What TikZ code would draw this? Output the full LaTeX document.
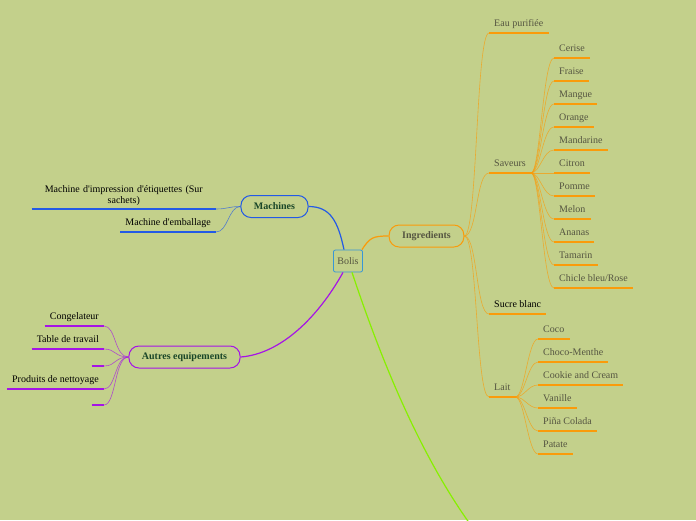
\documentclass[tikz,border=0pt]{standalone}
\usepackage{fontspec}
\setmainfont{Liberation Serif}
\usetikzlibrary{calc}

\definecolor{fond}{RGB}{195,208,139}
\definecolor{bleumm}{RGB}{35,90,230}
\definecolor{orangemm}{RGB}{250,155,10}
\definecolor{violetmm}{RGB}{165,20,230}
\definecolor{vertmm}{RGB}{135,240,0}
\definecolor{cadre}{RGB}{55,150,215}
\definecolor{texteg}{RGB}{85,85,65}
\definecolor{textev}{RGB}{25,70,40}

\tikzset{
  theme/.style={draw=#1, line width=1pt, rounded corners=10pt, minimum height=22pt,
    inner xsep=13pt, font=\bfseries},
  feuille/.style={inner xsep=5pt, inner ysep=3pt, text height=7pt, text depth=3pt,
    append after command={(\tikzlastnode.south west) edge[draw=#1, line width=1.4pt] (\tikzlastnode.south east)}},
  lien/.style={draw=#1, line width=0.6pt, opacity=0.7},
  branche/.style={draw=#1, line width=1.2pt}
}

\begin{document}
\begin{tikzpicture}[x=1pt, y=-1pt]
    % fond
    \fill[fond] (0,0) rectangle (696,520);
    \useasboundingbox (0,0) rectangle (696,520);

    % centre et themes
    \node[draw=cadre, line width=0.8pt, rounded corners=2pt, minimum height=22pt,
      inner xsep=4pt, text=texteg] (bolis) at (348,261) {Bolis};
    \node[theme=bleumm, text=textev] (machines) at (274.5,206.5) {Machines};
    \node[theme=orangemm, text=texteg] (ingredients) at (426.5,236) {Ingredients};
    \node[theme=violetmm, text=textev] (autres) at (184.5,357) {Autres equipements};
    \coordinate (finvert) at (470,524);

    % branches principales
    \draw[branche=bleumm] ($(bolis.north)+(-4,0)$) .. controls +(-6,-28) and +(22,0) .. (machines.east);
    \draw[branche=orangemm] ($(bolis.north east)+(-1,0)$) .. controls +(8,-12) and +(-16,0) .. (ingredients.west);
    \draw[branche=violetmm] ($(bolis.south)+(-5,0)$) .. controls +(-25,45) and +(40,-3) .. (autres.east);
    \draw[branche=vertmm] ($(bolis.south)+(4,0)$) .. controls +(30,90) and +(-50,-70) .. (finvert);

    % Machines
    \node[feuille=bleumm, anchor=south east, text width=174pt, align=center, text height=, text depth=,
      font=\fontsize{10}{11}\selectfont] (impression) at (216,209)
      {Machine d\textquotesingle impression d\textquotesingle étiquettes (Sur\\ sachets)};
    \node[feuille=bleumm, anchor=south east] (emballage) at (216,232) {Machine d\textquotesingle emballage};
    \draw[lien=bleumm] (machines.west) .. controls +(-12,0) and +(12,0) .. (impression.south east);
    \draw[lien=bleumm] (machines.west) .. controls +(-12,0) and +(12,0) .. (emballage.south east);

    % Autres equipements
    \node[feuille=violetmm, anchor=south east] (congelateur) at (104,326) {Congelateur};
    \node[feuille=violetmm, anchor=south east] (table) at (104,349) {Table de travail};
    \node[feuille=violetmm, anchor=south east, minimum width=12pt, inner xsep=0pt] (vide1) at (104,366) {};
    \node[feuille=violetmm, anchor=south east] (produits) at (104,389) {Produits de nettoyage};
    \node[feuille=violetmm, anchor=south east, minimum width=12pt, inner xsep=0pt] (vide2) at (104,405) {};
    \draw[lien=violetmm] (autres.west) .. controls +(-14,0) and +(12,0) .. (congelateur.south east);
    \draw[lien=violetmm] (autres.west) .. controls +(-14,0) and +(12,0) .. (table.south east);
    \draw[lien=violetmm] (autres.west) .. controls +(-14,0) and +(12,0) .. (vide1.south east);
    \draw[lien=violetmm] (autres.west) .. controls +(-14,0) and +(12,0) .. (produits.south east);
    \draw[lien=violetmm] (autres.west) .. controls +(-14,0) and +(12,0) .. (vide2.south east);

    % Ingredients
    \node[feuille=orangemm, anchor=south west, text=texteg] (eau) at (489,33) {Eau purifiée};
    \node[feuille=orangemm, anchor=south west, text=texteg] (saveurs) at (489,173) {Saveurs};
    \node[feuille=orangemm, anchor=south west] (sucre) at (489,314) {Sucre blanc};
    \node[feuille=orangemm, anchor=south west, text=texteg] (lait) at (489,397) {Lait};
    \draw[lien=orangemm] (ingredients.east) .. controls +(13,0) and +(-13,0) .. (eau.south west);
    \draw[lien=orangemm] (ingredients.east) .. controls +(13,0) and +(-13,0) .. (saveurs.south west);
    \draw[lien=orangemm] (ingredients.east) .. controls +(13,0) and +(-13,0) .. (sucre.south west);
    \draw[lien=orangemm] (ingredients.east) .. controls +(13,0) and +(-13,0) .. (lait.south west);

    % Saveurs
    \node[feuille=orangemm, anchor=south west, text=texteg] (cerise) at (554,58) {Cerise};
    \node[feuille=orangemm, anchor=south west, text=texteg] (fraise) at (554,81) {Fraise};
    \node[feuille=orangemm, anchor=south west, text=texteg] (mangue) at (554,104) {Mangue};
    \node[feuille=orangemm, anchor=south west, text=texteg] (sav-orange) at (554,127) {Orange};
    \node[feuille=orangemm, anchor=south west, text=texteg] (mandarine) at (554,150) {Mandarine};
    \node[feuille=orangemm, anchor=south west, text=texteg] (citron) at (554,173) {Citron};
    \node[feuille=orangemm, anchor=south west, text=texteg] (pomme) at (554,196) {Pomme};
    \node[feuille=orangemm, anchor=south west, text=texteg] (melon) at (554,219) {Melon};
    \node[feuille=orangemm, anchor=south west, text=texteg] (ananas) at (554,242) {Ananas};
    \node[feuille=orangemm, anchor=south west, text=texteg] (tamarin) at (554,265) {Tamarin};
    \node[feuille=orangemm, anchor=south west, text=texteg] (chicle) at (554,288) {Chicle bleu/Rose};
    \draw[lien=orangemm] (saveurs.south east) .. controls +(9,0) and +(-11,0) .. (cerise.south west);
    \draw[lien=orangemm] (saveurs.south east) .. controls +(9,0) and +(-11,0) .. (fraise.south west);
    \draw[lien=orangemm] (saveurs.south east) .. controls +(9,0) and +(-11,0) .. (mangue.south west);
    \draw[lien=orangemm] (saveurs.south east) .. controls +(9,0) and +(-11,0) .. (sav-orange.south west);
    \draw[lien=orangemm] (saveurs.south east) .. controls +(9,0) and +(-11,0) .. (mandarine.south west);
    \draw[lien=orangemm] (saveurs.south east) -- (citron.south west);
    \draw[lien=orangemm] (saveurs.south east) .. controls +(9,0) and +(-11,0) .. (pomme.south west);
    \draw[lien=orangemm] (saveurs.south east) .. controls +(9,0) and +(-11,0) .. (melon.south west);
    \draw[lien=orangemm] (saveurs.south east) .. controls +(9,0) and +(-11,0) .. (ananas.south west);
    \draw[lien=orangemm] (saveurs.south east) .. controls +(9,0) and +(-11,0) .. (tamarin.south west);
    \draw[lien=orangemm] (saveurs.south east) .. controls +(9,0) and +(-11,0) .. (chicle.south west);

    % Lait
    \node[feuille=orangemm, anchor=south west, text=texteg] (coco) at (538,339) {Coco};
    \node[feuille=orangemm, anchor=south west, text=texteg] (chocomenthe) at (538,362) {Choco-Menthe};
    \node[feuille=orangemm, anchor=south west, text=texteg] (cookie) at (538,385) {Cookie and Cream};
    \node[feuille=orangemm, anchor=south west, text=texteg] (vanille) at (538,408) {Vanille};
    \node[feuille=orangemm, anchor=south west, text=texteg] (pina) at (538,431) {Piña Colada};
    \node[feuille=orangemm, anchor=south west, text=texteg] (patate) at (538,454) {Patate};
    \draw[lien=orangemm] (lait.south east) .. controls +(9,0) and +(-10,0) .. (coco.south west);
    \draw[lien=orangemm] (lait.south east) .. controls +(9,0) and +(-10,0) .. (chocomenthe.south west);
    \draw[lien=orangemm] (lait.south east) .. controls +(9,0) and +(-10,0) .. (cookie.south west);
    \draw[lien=orangemm] (lait.south east) .. controls +(9,0) and +(-10,0) .. (vanille.south west);
    \draw[lien=orangemm] (lait.south east) .. controls +(9,0) and +(-10,0) .. (pina.south west);
    \draw[lien=orangemm] (lait.south east) .. controls +(9,0) and +(-10,0) .. (patate.south west);
\end{tikzpicture}
\end{document}
